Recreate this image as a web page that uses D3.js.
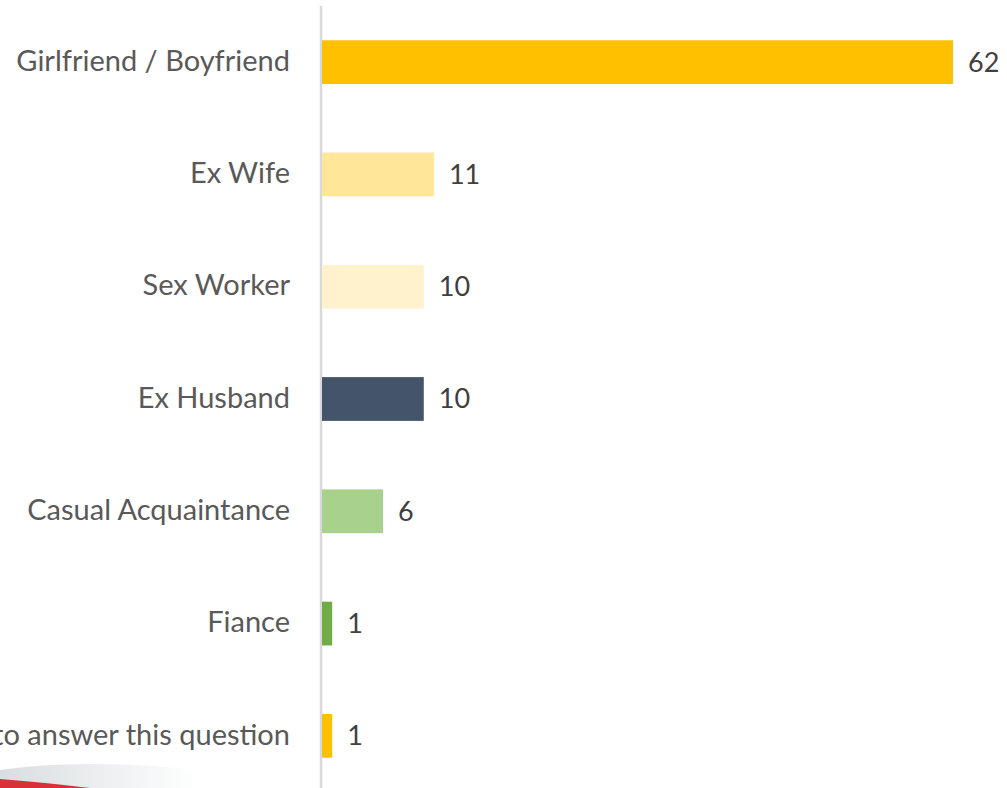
<!DOCTYPE html>
<meta charset="utf-8">
<style>
body { margin: 0; background-color: #ffffff; }
.label { font-family: Lato, "Open Sans", sans-serif; font-size: 29px; fill: #595959; }
.value { font-family: Lato, "Open Sans", sans-serif; font-size: 27px; fill: #404040; }
</style>
<head>
<script src="https://d3js.org/d3.v7.min.js"></script>
</head>
<body>
<svg id="chart" width="1007" height="788"></svg>
<script>
var categories = ["Girlfriend / Boyfriend", "Ex Wife", "Sex Worker", "Ex Husband",
                  "Casual Acquaintance", "Fiance", "Prefer not to answer this question"];
var values = [62, 11, 10, 10, 6, 1, 1];
var colors = ["#FFC000", "#FFE699", "#FFF2CC", "#44546A", "#A9D18E", "#70AD47", "#FFC000"];

var svg = d3.select("#chart"),
    margin = {top: 6, right: 0, bottom: 0, left: 322},
    plotW = 631;

var x = d3.scaleLinear().domain([0, 62]).range([0, plotW]);
var y = d3.scaleBand().domain(categories).range([6, 792]).paddingInner(0.61).paddingOuter(0.305);

// decorative swoosh in the bottom-left corner
var defs = svg.append("defs");
var lg = defs.append("linearGradient").attr("id", "fade").attr("x1", 0).attr("x2", 1).attr("y1", 0).attr("y2", 0);
lg.append("stop").attr("offset", "0%").attr("stop-color", "#c9cfd2");
lg.append("stop").attr("offset", "60%").attr("stop-color", "#ffffff");
svg.append("path")
  .attr("d", "M0,770 Q120,752 330,788 L0,788 Z")
  .attr("fill", "url(#fade)").attr("opacity", 0.7);
svg.append("path")
  .attr("d", "M0,779 Q40,782 90,788 L0,788 Z")
  .attr("fill", "#d9303a");

var g = svg.append("g").attr("transform", "translate(" + margin.left + ",0)");

// axis line
g.append("line")
  .attr("x1", -1).attr("x2", -1)
  .attr("y1", margin.top).attr("y2", 788)
  .attr("stroke", "#d9d9d9").attr("stroke-width", 2.5);

g.selectAll(".bar")
  .data(values)
  .enter().append("rect")
  .attr("x", 0)
  .attr("y", function(d, i) { return y(categories[i]); })
  .attr("width", function(d) { return x(d); })
  .attr("height", y.bandwidth())
  .attr("fill", function(d, i) { return colors[i]; });

g.selectAll(".value")
  .data(values)
  .enter().append("text")
  .attr("class", "value")
  .attr("x", function(d) { return x(d) + 15; })
  .attr("y", function(d, i) { return y(categories[i]) + y.bandwidth() / 2; })
  .attr("dy", "0.35em")
  .text(function(d) { return d; });

g.selectAll(".label")
  .data(categories)
  .enter().append("text")
  .attr("class", "label")
  .attr("x", -32)
  .attr("y", function(d) { return y(d) + y.bandwidth() / 2; })
  .attr("dy", "0.3em")
  .attr("text-anchor", "end")
  .text(function(d) { return d; });
</script>
</body>
